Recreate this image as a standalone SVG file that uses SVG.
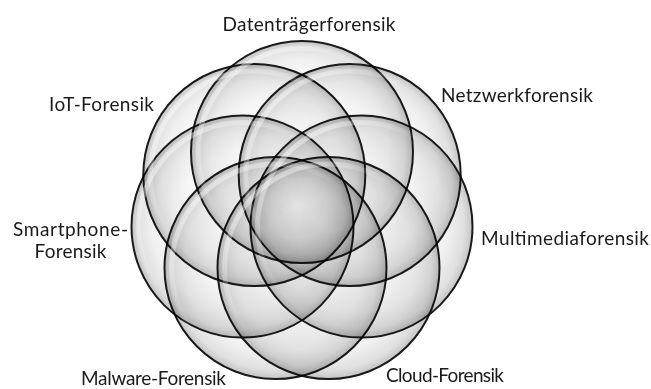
<svg xmlns="http://www.w3.org/2000/svg" width="651" height="389" viewBox="0 0 651 389">
<defs>
<radialGradient id="bubble" cx="0.5" cy="0.5" r="0.5" fx="0.45" fy="0.42">
<stop offset="0" stop-color="#fefefe"/>
<stop offset="0.55" stop-color="#fbfbfb"/>
<stop offset="0.8" stop-color="#f0f0f0"/>
<stop offset="0.93" stop-color="#e0e0e0"/>
<stop offset="1" stop-color="#c4c4c4"/>
</radialGradient>
<linearGradient id="shine" x1="0" y1="0" x2="1" y2="1">
<stop offset="0" stop-color="#ffffff" stop-opacity="0.65"/>
<stop offset="0.45" stop-color="#ffffff" stop-opacity="0"/>
</linearGradient>
</defs>
<style>
.c{fill:url(#bubble);stroke:#1a1a1a;stroke-width:2;mix-blend-mode:multiply}
.s{fill:none;stroke:url(#shine);stroke-width:5}
.t{font-family:Lato,"Open Sans","Liberation Sans",sans-serif;font-size:19px;fill:#1a1a1a}
</style>
<rect width="651" height="389" fill="#ffffff"/>
<g id="datentraeger">
<circle class="c" cx="302" cy="152" r="111"/>
<text class="t" x="309" y="31" text-anchor="middle" textLength="173">Datenträgerforensik</text>
</g>
<g id="netzwerk">
<circle class="c" cx="349.7" cy="175" r="111"/>
<text class="t" x="441" y="102" textLength="152">Netzwerkforensik</text>
</g>
<g id="multimedia">
<circle class="c" cx="361.5" cy="226.6" r="111"/>
<text class="t" x="481" y="245" textLength="168">Multimediaforensik</text>
</g>
<g id="cloud">
<circle class="c" cx="328.5" cy="268" r="111"/>
<text class="t" x="386" y="382" textLength="118">Cloud-Forensik</text>
</g>
<g id="malware">
<circle class="c" cx="275.5" cy="268" r="111"/>
<text class="t" x="81" y="385" textLength="145">Malware-Forensik</text>
</g>
<g id="smartphone">
<circle class="c" cx="242.5" cy="226.6" r="111"/>
<text class="t" x="70.5" y="236" text-anchor="middle" textLength="115">Smartphone-</text>
<text class="t" x="70.5" y="257.5" text-anchor="middle" textLength="72">Forensik</text>
</g>
<g id="iot">
<circle class="c" cx="254.3" cy="175" r="111"/>
<text class="t" x="49" y="111" textLength="105">IoT-Forensik</text>
</g>
<g id="highlights">
<circle class="s" cx="302" cy="152" r="104"/>
<circle class="s" cx="349.7" cy="175" r="104"/>
<circle class="s" cx="361.5" cy="226.6" r="104"/>
<circle class="s" cx="328.5" cy="268" r="104"/>
<circle class="s" cx="275.5" cy="268" r="104"/>
<circle class="s" cx="242.5" cy="226.6" r="104"/>
<circle class="s" cx="254.3" cy="175" r="104"/>
</g>
</svg>
